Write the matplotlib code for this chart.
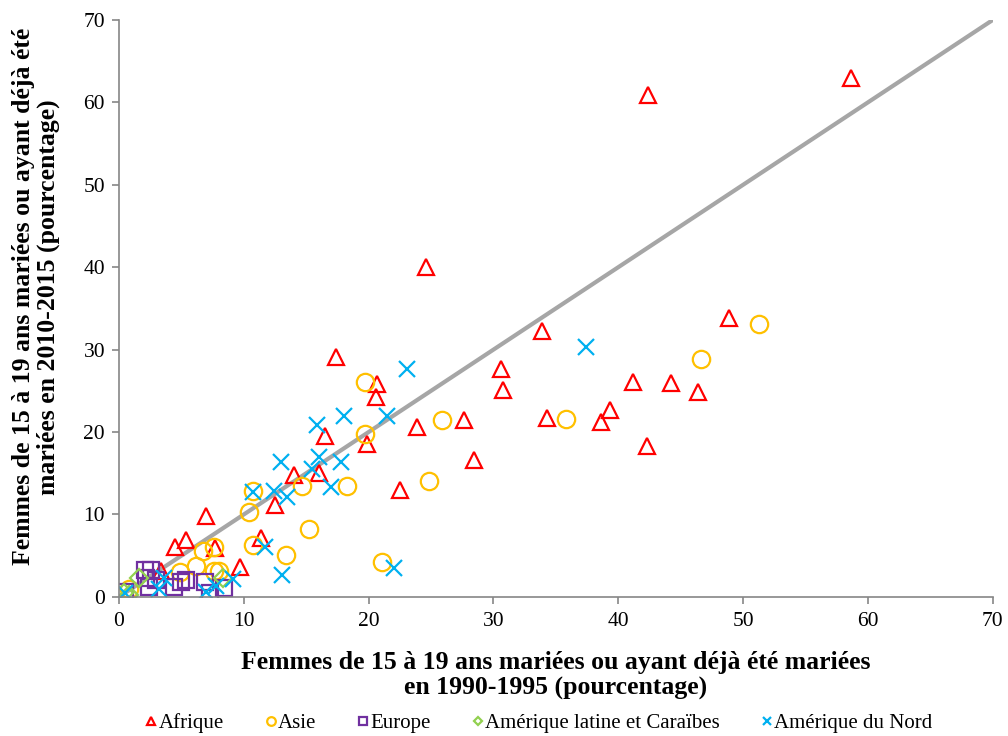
import matplotlib
matplotlib.use("Agg")
import matplotlib.pyplot as plt

plt.rcParams["font.family"] = ["Liberation Serif", "DejaVu Serif"]

# Afrique
afr_x = [58.6, 42.4, 24.6, 33.9, 48.9, 17.4, 30.6, 30.8, 20.7, 20.6, 41.2, 44.2, 46.4, 39.3, 34.3, 38.6, 27.6,
         23.9, 16.5, 19.9, 42.3, 28.4, 16.0, 14.0, 22.5, 12.5, 7.0, 11.4, 5.4, 4.5, 7.7, 9.7, 3.4]
afr_y = [62.9, 60.9, 40.0, 32.3, 33.8, 29.1, 27.7, 25.1, 25.8, 24.3, 26.1, 26.0, 24.9, 22.7, 21.7, 21.2, 21.5,
         20.6, 19.5, 18.6, 18.3, 16.6, 15.0, 14.8, 13.0, 11.2, 9.8, 7.2, 6.9, 6.1, 5.9, 3.6, 3.1]

# Asie
asie_x = [51.3, 46.6, 35.8, 25.9, 19.7, 19.7, 18.3, 24.8, 14.7, 10.7, 10.4, 15.2, 13.4, 10.7, 21.1, 7.6, 6.7,
          6.2, 7.6, 8.0, 4.9, 0.8]
asie_y = [33.1, 28.9, 21.6, 21.4, 26.1, 19.8, 13.4, 14.1, 13.5, 12.9, 10.3, 8.2, 5.1, 6.3, 4.2, 6.1, 5.6,
          3.7, 3.2, 3.2, 3.0, 0.9]

# Europe
eur_x = [0.5, 2.1, 2.6, 2.2, 3.0, 2.4, 4.4, 5.0, 5.4, 6.9, 7.3, 8.4]
eur_y = [0.6, 3.3, 3.3, 2.3, 2.1, 1.2, 1.2, 1.8, 2.1, 1.8, 0.5, 1.1]

# Amérique latine et Caraïbes
lat_x = [1.6, 0.8, 8.3, 0.4]
lat_y = [2.3, 0.2, 2.3, 0.5]

# Amérique du Nord
nord_x = [37.4, 23.1, 21.5, 18.0, 15.9, 16.0, 17.8, 13.0, 15.5, 17.0, 12.4, 10.7, 13.5, 11.7, 13.1, 22.0,
          3.6, 3.2, 7.0, 7.8, 9.1, 0.5]
nord_y = [30.3, 27.6, 22.0, 22.0, 20.9, 17.0, 16.4, 16.4, 15.5, 13.3, 12.8, 12.7, 12.1, 6.0, 2.7, 3.5,
          2.3, 0.9, 0.6, 1.3, 2.2, 0.5]

fig = plt.figure(figsize=(10.08, 7.36), dpi=100)
ax = fig.add_axes([0.118, 0.189, 0.867, 0.784])

ax.plot([0, 70], [0, 70], color="#A6A6A6", lw=3, zorder=1)

ax.plot(afr_x, afr_y, "^", ms=11.5, mfc="none", mec="#FF0000", mew=1.6, ls="none", label="Afrique")
ax.plot(asie_x, asie_y, "o", ms=12.5, mfc="none", mec="#FFC000", mew=1.6, ls="none", label="Asie")
ax.plot(eur_x, eur_y, "s", ms=11, mfc="none", mec="#7030A0", mew=1.6, ls="none", label="Europe")
ax.plot(lat_x, lat_y, "D", ms=9, mfc="none", mec="#92D050", mew=1.6, ls="none",
        label="Amérique latine et Caraïbes")
ax.plot(nord_x, nord_y, "x", ms=11, mec="#00B0F0", mew=1.6, ls="none", label="Amérique du Nord")

ax.set_xlim(0, 70)
ax.set_ylim(0, 70)
ax.set_xticks(range(0, 71, 10))
ax.set_yticks(range(0, 71, 10))
ax.spines["top"].set_visible(False)
ax.spines["right"].set_visible(False)
for s in ["left", "bottom"]:
    ax.spines[s].set_color("#868686")
    ax.spines[s].set_linewidth(1.2)
ax.tick_params(colors="#868686", labelcolor="black", labelsize=15.5, length=5, width=1.2)
ax.tick_params(axis="x", pad=6)
ax.tick_params(axis="y", pad=5)

ax.set_xlabel("Femmes de 15 à 19 ans mariées ou ayant déjà été mariées\nen 1990-1995 (pourcentage)",
              fontsize=18.5, fontweight="bold", linespacing=1.15, labelpad=14)
ax.set_ylabel("Femmes de 15 à 19 ans mariées ou ayant déjà été\nmariées en 2010-2015 (pourcentage)",
              fontsize=18.5, fontweight="bold", linespacing=1.1)
ax.yaxis.set_label_coords(-0.067, 0.52)

fig.legend(loc="lower center", bbox_to_anchor=(0.535, -0.022), ncol=5, frameon=False, fontsize=15,
           markerscale=0.5, handlelength=0.5, handletextpad=0.1, columnspacing=2.0)

fig.savefig("out.png", dpi=100)
